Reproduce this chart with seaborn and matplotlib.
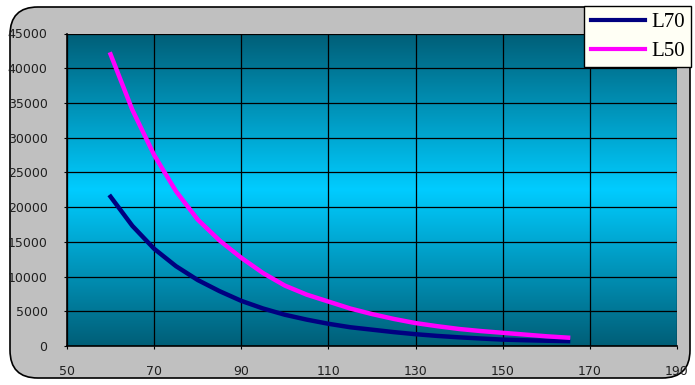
import numpy as np
import pandas as pd
import seaborn as sns
import matplotlib.pyplot as plt
from matplotlib.colors import LinearSegmentedColormap
from matplotlib.patches import FancyBboxPatch
from matplotlib.lines import Line2D

# values
x_vals = [60, 65, 70, 75, 80, 85, 90, 95, 100, 105, 110, 115, 120, 125, 130, 135, 140, 145, 150, 155, 160, 165]
l70 = [21500, 17300, 14000, 11500, 9500, 7900, 6500, 5400, 4500, 3800, 3200, 2700, 2350, 2000, 1700, 1450,
       1250, 1080, 920, 830, 760, 700]
l50 = [42000, 34000, 27500, 22300, 18200, 15200, 12700, 10500, 8700, 7400, 6400, 5400, 4600, 3900, 3300, 2850,
       2450, 2150, 1900, 1650, 1400, 1200]
series_names = ['L70', 'L50']
series_colors = ['#000080', '#FF00FF']
x_ticks = [50, 70, 90, 110, 130, 150, 170, 190]
y_ticks = list(range(0, 45001, 5000))

df = pd.DataFrame({
    'x': x_vals * 2,
    'hours': l70 + l50,
    'series': ['L70'] * len(x_vals) + ['L50'] * len(x_vals),
})

fig = plt.figure(figsize=(6.95, 3.85), dpi=100)
fig.patch.set_facecolor('white')

# gray rounded chart area
bg = FancyBboxPatch((10 / 695, 7 / 385), 680 / 695, 371 / 385,
                    boxstyle='round,pad=0,rounding_size=0.04',
                    transform=fig.transFigure, facecolor='#C0C0C0',
                    edgecolor='black', linewidth=1.2, mutation_aspect=695 / 385, zorder=-5)
fig.patches.append(bg)

ax = fig.add_axes([67 / 695, 1 - 346 / 385, 610 / 695, 312.5 / 385])
ax.set_zorder(2)
ax.set_xlim(50, 190)
ax.set_ylim(0, 45000)

# vertical gradient dark-bright-dark, built as rgb rows
top = np.array([0x00, 0x5E, 0x77]) / 255
mid = np.array([0x00, 0xCC, 0xFF]) / 255
t = np.abs(np.linspace(-1, 1, 400))
rows = mid[None, :] * (1 - t[:, None]) + top[None, :] * t[:, None]
ax.imshow(rows[:, None, :], aspect='auto', extent=[50, 190, 0, 45000], origin='lower',
          interpolation='bilinear', zorder=0)

sns.lineplot(data=df, x='x', y='hours', hue='series', palette=dict(zip(series_names, series_colors)),
             linewidth=3.2, ax=ax, legend=False, zorder=3)

ax.set_xticks(x_ticks)
ax.set_yticks(y_ticks)
ax.grid(True, color='black', linewidth=0.9, zorder=1)
ax.set_axisbelow(False)
for s in ['top', 'right']:
    ax.spines[s].set_visible(False)
for s in ['left', 'bottom']:
    ax.spines[s].set_color('black')
    ax.spines[s].set_linewidth(1.2)
ax.tick_params(axis='both', colors='black', labelcolor='#202020', labelsize=9, length=2)
ax.tick_params(axis='y', pad=12)
ax.tick_params(axis='x', pad=12)
ax.set_xlabel('')
ax.set_ylabel('')

# legend box in the top right corner
handles = [Line2D([0], [0], color=c, linewidth=3) for c in series_colors]
leg = fig.legend(handles, series_names, loc='upper right', bbox_to_anchor=(691 / 695, 1 - 6 / 385),
                 frameon=True, fancybox=False, edgecolor='black', facecolor='#FFFFF5', framealpha=1,
                 prop={'family': 'Liberation Serif', 'size': 15}, handlelength=2.6,
                 borderpad=0.3, labelspacing=0.45, handletextpad=0.3, borderaxespad=0)
leg.get_frame().set_linewidth(1)
leg.set_zorder(5)

plt.savefig('out.png', dpi=100)
